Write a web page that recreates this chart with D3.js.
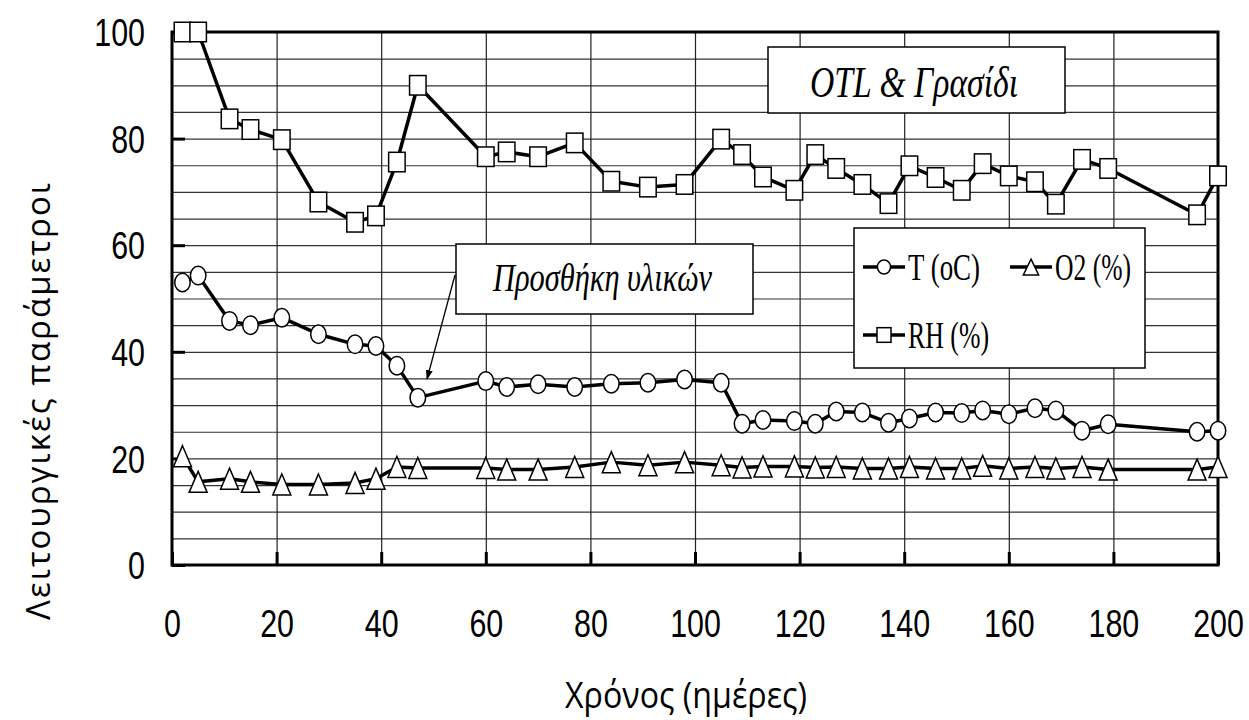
<!DOCTYPE html>
<html>
<head>
<meta charset="utf-8">
<script src="https://cdn.jsdelivr.net/npm/d3@7"></script>
<style>
  body { margin: 0; background: #fff; }
  svg { display: block; }
</style>
</head>
<body>
<svg id="chart" width="1249" height="720"></svg>
<script>
// days of measurement
const days = [2, 5, 11, 15, 21, 28, 35, 39, 43, 47, 60, 64, 70, 77, 84, 91, 98, 105, 109, 113,
  119, 123, 127, 132, 137, 141, 146, 151, 155, 160, 165, 169, 174, 179, 196, 200];
const tempC = [53.0, 54.3, 45.8, 45.0, 46.4, 43.3, 41.4, 41.1, 37.4, 31.4, 34.5, 33.4, 33.9, 33.4, 34.0, 34.2, 34.8, 34.2, 26.5, 27.2,
  27.0, 26.5, 28.8, 28.6, 26.7, 27.5, 28.6, 28.5, 29.0, 28.3, 29.4, 29.0, 25.2, 26.4, 25.0, 25.2];
const oxygen = [20.4, 15.6, 16.2, 15.6, 15.1, 15.1, 15.4, 16.2, 18.4, 18.2, 18.2, 17.9, 17.9, 18.4, 19.3, 18.7, 19.3, 18.7, 18.3, 18.5,
  18.5, 18.3, 18.4, 18.1, 18.1, 18.4, 18.1, 18.1, 18.6, 18.1, 18.4, 18.1, 18.4, 17.9, 17.9, 18.4];
const humidity = [100, 100, 83.7, 81.7, 79.8, 68.1, 64.3, 65.5, 75.6, 90.0, 76.6, 77.5, 76.6, 79.2, 72.0, 70.9, 71.4, 79.9, 77.0, 72.8,
  70.3, 77.0, 74.4, 71.4, 67.8, 74.9, 72.7, 70.3, 75.3, 73.0, 71.9, 67.7, 76.1, 74.4, 65.7, 73.0];

const xTicks = [0, 20, 40, 60, 80, 100, 120, 140, 160, 180, 200];
const yTicks = [0, 20, 40, 60, 80, 100];
const yGrid = d3.range(5, 100, 5);
const seriesNames = ["T (oC)", "O2 (%)", "RH (%)"];
const xTitle = "Χρόνος (ημέρες)";
const yTitle = "Λειτουργικές παράμετροι";
const boxTitle = "OTL & Γρασίδι";
const noteText = "Προσθήκη υλικών";

const plot = {left: 172, right: 1218, top: 32, bottom: 565};
const x = d3.scaleLinear().domain([0, 200]).range([plot.left, plot.right]);
const y = d3.scaleLinear().domain([0, 100]).range([plot.bottom, plot.top]);

const svg = d3.select("#chart");
const SX = 0.8; // text is squeezed sideways in the original

// grid
svg.append("g")
  .attr("transform", `translate(${plot.left},0)`)
  .call(d3.axisLeft(y).tickValues(yGrid).tickSize(-(plot.right - plot.left)).tickFormat(""))
  .call(g => g.select(".domain").remove())
  .call(g => g.selectAll("line").attr("stroke", "#333").attr("stroke-width", 1.2));
svg.append("g")
  .attr("transform", `translate(0,${plot.bottom})`)
  .call(d3.axisBottom(x).tickValues(xTicks.slice(1, -1)).tickSize(-(plot.bottom - plot.top)).tickFormat(""))
  .call(g => g.select(".domain").remove())
  .call(g => g.selectAll("line").attr("stroke", "#222").attr("stroke-width", 1.2));

// axes with inward ticks
const xAxis = svg.append("g")
  .attr("transform", `translate(0,${plot.bottom})`)
  .call(d3.axisBottom(x).tickValues(xTicks).tickSize(-13).tickPadding(0))
  .call(g => g.select(".domain").remove());
xAxis.selectAll("line").attr("stroke", "#000").attr("stroke-width", 3);
xAxis.selectAll("text")
  .attr("y", 72).attr("dy", 0)
  .attr("transform", `scale(${SX},1)`)
  .attr("font-family", "'Liberation Sans', Arial, sans-serif")
  .attr("font-size", 38).attr("fill", "#000");

const yAxis = svg.append("g")
  .attr("transform", `translate(${plot.left},0)`)
  .call(d3.axisLeft(y).tickValues(yTicks).tickSize(-13))
  .call(g => g.select(".domain").remove());
yAxis.selectAll("line").attr("stroke", "#000").attr("stroke-width", 3);
yAxis.selectAll("text")
  .attr("x", -27 / SX).attr("dy", "0.36em")
  .attr("transform", `scale(${SX},1)`)
  .attr("font-family", "'Liberation Sans', Arial, sans-serif")
  .attr("font-size", 38).attr("fill", "#000");

// frame
svg.append("rect")
  .attr("x", plot.left).attr("y", plot.top)
  .attr("width", plot.right - plot.left).attr("height", plot.bottom - plot.top)
  .attr("fill", "none").attr("stroke", "#000").attr("stroke-width", 3);

// titles
svg.append("text")
  .attr("x", 565).attr("y", 708)
  .attr("textLength", 242).attr("lengthAdjust", "spacingAndGlyphs")
  .attr("font-family", "'Open Sans', sans-serif").attr("font-size", 36)
  .text(xTitle);
svg.append("text")
  .attr("transform", "translate(50,620) rotate(-90)")
  .attr("textLength", 437).attr("lengthAdjust", "spacing")
  .attr("font-family", "'Open Sans', sans-serif").attr("font-size", 33)
  .text(yTitle);

// annotation boxes
function noteBox(x0, y0, w, h, label, tx, ty, tw, fs) {
  svg.append("rect")
    .attr("x", x0).attr("y", y0).attr("width", w).attr("height", h)
    .attr("fill", "#fff").attr("stroke", "#000").attr("stroke-width", 1.5);
  svg.append("text")
    .attr("x", tx).attr("y", ty)
    .attr("textLength", tw).attr("lengthAdjust", "spacingAndGlyphs")
    .attr("font-family", "'Liberation Serif', 'Times New Roman', serif")
    .attr("font-style", "italic").attr("font-size", fs)
    .text(label);
}
noteBox(768, 47, 297, 66, boxTitle, 810, 97, 208, 45);
noteBox(456, 244, 297, 70, noteText, 493, 291, 219, 39);

// arrow
svg.append("defs").append("marker")
  .attr("id", "head").attr("markerWidth", 10).attr("markerHeight", 10)
  .attr("refX", 9).attr("refY", 5).attr("orient", "auto").attr("markerUnits", "userSpaceOnUse")
  .append("path").attr("d", "M0,1.5 L10,5 L0,8.5 z").attr("fill", "#000");
svg.append("line")
  .attr("x1", 455).attr("y1", 275).attr("x2", 427).attr("y2", 379)
  .attr("stroke", "#000").attr("stroke-width", 1.3)
  .attr("marker-end", "url(#head)");

// series
const line = d3.line().x(d => x(d[0])).y(d => y(d[1]));

function markerShape(sel, kind, w, h) {
  if (kind === "circle") {
    sel.append("ellipse").attr("rx", w / 2).attr("ry", h / 2);
  } else if (kind === "square") {
    sel.append("rect").attr("x", -w / 2).attr("y", -h / 2).attr("width", w).attr("height", h);
  } else {
    sel.append("path").attr("d", `M0,${-h / 2}L${w / 2},${h / 2}L${-w / 2},${h / 2}Z`);
  }
  sel.selectAll("*").attr("fill", "#fff").attr("stroke", "#000").attr("stroke-width", 1.5);
}

const series = [
  {values: tempC, kind: "circle", w: 15.5, h: 18.5},
  {values: oxygen, kind: "triangle", w: 18, h: 21},
  {values: humidity, kind: "square", w: 16.5, h: 19.5}
];

series.forEach(s => {
  const pts = days.map((d, i) => [d, s.values[i]]);
  svg.append("path").datum(pts)
    .attr("d", line).attr("fill", "none")
    .attr("stroke", "#000").attr("stroke-width", 3.5).attr("stroke-linejoin", "round");
  svg.append("g").selectAll("g").data(pts).join("g")
    .attr("transform", d => `translate(${x(d[0])},${y(d[1])})`)
    .each(function() { markerShape(d3.select(this), s.kind, s.w, s.h); });
});

// legend
svg.append("rect")
  .attr("x", 854).attr("y", 228).attr("width", 291).attr("height", 140)
  .attr("fill", "#fff").attr("stroke", "#000").attr("stroke-width", 1.5);
const legendItems = [
  {x: 863, y: 267, tw: 72},
  {x: 1010, y: 267, tw: 76},
  {x: 863, y: 335, tw: 81}
];
legendItems.forEach((p, i) => {
  const s = series[i];
  const g = svg.append("g").attr("transform", `translate(${p.x},${p.y})`);
  g.append("line").attr("x1", 0).attr("x2", 42).attr("stroke", "#000").attr("stroke-width", 3.5);
  const m = g.append("g").attr("transform", "translate(21,0)");
  markerShape(m, s.kind, s.w * 0.85, s.h * 0.75);
  g.append("text")
    .attr("x", 45).attr("y", 13)
    .attr("textLength", p.tw).attr("lengthAdjust", "spacingAndGlyphs")
    .attr("font-family", "'Liberation Serif', 'Times New Roman', serif")
    .attr("font-size", 37)
    .text(seriesNames[i]);
});
</script>
</body>
</html>
